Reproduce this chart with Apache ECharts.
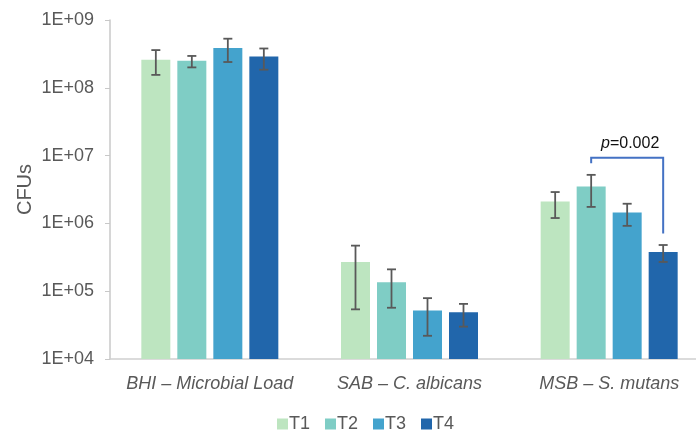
<!DOCTYPE html>
<html>
<head>
<meta charset="utf-8">
<style>
  html, body { margin: 0; padding: 0; background: #fff; }
  #chart { width: 696px; height: 430px; }
</style>
<script src="https://cdn.jsdelivr.net/npm/echarts@6/dist/echarts.min.js"></script>
</head>
<body>
<div id="chart"></div>
<script>
const categories = ['BHI – Microbial Load', 'SAB – C. albicans', 'MSB – S. mutans']
const seriesNames = ['T1', 'T2', 'T3', 'T4']
const colors = ['#BDE5C0', '#7FCDC5', '#44A3CD', '#2166AB']
const yTickLabels = ['1E+04', '1E+05', '1E+06', '1E+07', '1E+08', '1E+09']

// means per series (one value per category)
const t1 = [2.6e8, 2.7e5, 2.1e6]
const t2 = [2.5e8, 1.35e5, 3.5e6]
const t3 = [3.85e8, 5.2e4, 1.45e6]
const t4 = [2.9e8, 4.9e4, 3.8e5]
// error bar low / high
const t1Low = [1.55e8, 5.4e4, 1.2e6]
const t1High = [3.6e8, 4.7e5, 2.9e6]
const t2Low = [2.0e8, 5.7e4, 1.75e6]
const t2High = [2.95e8, 2.1e5, 5.2e6]
const t3Low = [2.4e8, 2.2e4, 9.2e5]
const t3High = [5.3e8, 7.9e4, 1.95e6]
const t4Low = [1.85e8, 3.0e4, 2.7e5]
const t4High = [3.8e8, 6.5e4, 4.8e5]

// significance bracket: category, from series, to series, top, left end, right end
const bracket = [2, 1, 3, 9.3e6, 7.7e6, 7.1e5]
const bracketLabel = 'p=0.002'

const means = [t1, t2, t3, t4]
const lows = [t1Low, t2Low, t3Low, t4Low]
const highs = [t1High, t2High, t3High, t4High]

const barW = 29
const gapPx = 7
const step = barW + gapPx
const offsetOf = (i) => (i - 1.5) * step

const textColor = '#595959'
const font = 'Liberation Sans, Arial, sans-serif'

const barSeries = seriesNames.map((name, i) => ({
  name,
  type: 'bar',
  data: means[i],
  barWidth: barW,
  barGap: (gapPx / barW) * 100 + '%',
  itemStyle: { color: colors[i] },
  z: 2,
}))

const errSeries = seriesNames.map((name, i) => ({
  type: 'custom',
  name: name + ' err',
  data: categories.map((c, k) => [k, lows[i][k], highs[i][k]]),
  z: 5,
  silent: true,
  renderItem(params, api) {
    const lo = api.coord([api.value(0), api.value(1)])
    const hi = api.coord([api.value(0), api.value(2)])
    const x = lo[0] + offsetOf(i)
    const cap = 4.5
    const style = { stroke: '#595959', lineWidth: 1.8 }
    return {
      type: 'group',
      children: [
        { type: 'line', shape: { x1: x, y1: lo[1], x2: x, y2: hi[1] }, style },
        { type: 'line', shape: { x1: x - cap, y1: hi[1], x2: x + cap, y2: hi[1] }, style },
        { type: 'line', shape: { x1: x - cap, y1: lo[1], x2: x + cap, y2: lo[1] }, style },
      ],
    }
  },
}))

const bracketSeries = {
  type: 'custom',
  name: 'bracket',
  data: [bracket],
  z: 6,
  silent: true,
  renderItem(params, api) {
    const top = api.coord([api.value(0), api.value(3)])
    const l = api.coord([api.value(0), api.value(4)])
    const r = api.coord([api.value(0), api.value(5)])
    const xa = top[0] + offsetOf(api.value(1))
    const xb = top[0] + offsetOf(api.value(2))
    return {
      type: 'group',
      children: [
        {
          type: 'polyline',
          shape: { points: [[xa, l[1]], [xa, top[1]], [xb, top[1]], [xb, r[1]]] },
          style: { stroke: '#4472C4', lineWidth: 2, fill: null },
        },
        {
          type: 'text',
          x: (xa + xb) / 2 + 3,
          y: top[1] - 6,
          style: {
            text: '{i|p}' + bracketLabel.slice(1),
            fill: '#111',
            font: '16px ' + font,
            align: 'center',
            verticalAlign: 'bottom',
            rich: { i: { fontStyle: 'italic', fontSize: 16, fontFamily: font, fill: '#111' } },
          },
        },
      ],
    }
  },
}

const chart = echarts.init(document.getElementById('chart'), null, { renderer: 'canvas' })
chart.setOption({
  animation: false,
  textStyle: { fontFamily: font },
  legend: {
    data: seriesNames,
    left: 272,
    top: 410,
    icon: 'rect',
    itemWidth: 11,
    itemHeight: 11,
    itemGap: 15,
    textStyle: { color: textColor, fontSize: 18, fontFamily: font, padding: [0, 0, 0, -4] },
  },
  grid: { left: 110, right: -13, top: 20, bottom: 71, outerBoundsMode: 'none', containLabel: false },
  xAxis: {
    type: 'category',
    data: categories,
    axisLine: { lineStyle: { color: '#D0D0D0', width: 1.5 } },
    axisTick: { show: false },
    axisLabel: {
      color: textColor,
      fontSize: 18,
      fontStyle: 'italic',
      fontFamily: font,
      margin: 16,
      interval: 0,
    },
  },
  yAxis: {
    type: 'log',
    logBase: 10,
    min: 1e4,
    max: 1e9,
    name: 'CFUs',
    nameLocation: 'middle',
    nameGap: 75,
    nameMoveOverlap: false,
    nameTextStyle: { color: textColor, fontSize: 20, fontFamily: font },
    axisLine: { show: true, lineStyle: { color: '#C8C8C8', width: 1.5 } },
    axisTick: { show: true, length: 5, lineStyle: { color: '#C8C8C8' } },
    splitLine: { show: false },
    axisLabel: {
      color: textColor,
      fontSize: 18,
      fontFamily: font,
      margin: 16,
      formatter: (v) => yTickLabels[Math.round(Math.log10(v)) - 4],
    },
  },
  series: [...barSeries, ...errSeries, bracketSeries],
})
</script>
</body>
</html>
